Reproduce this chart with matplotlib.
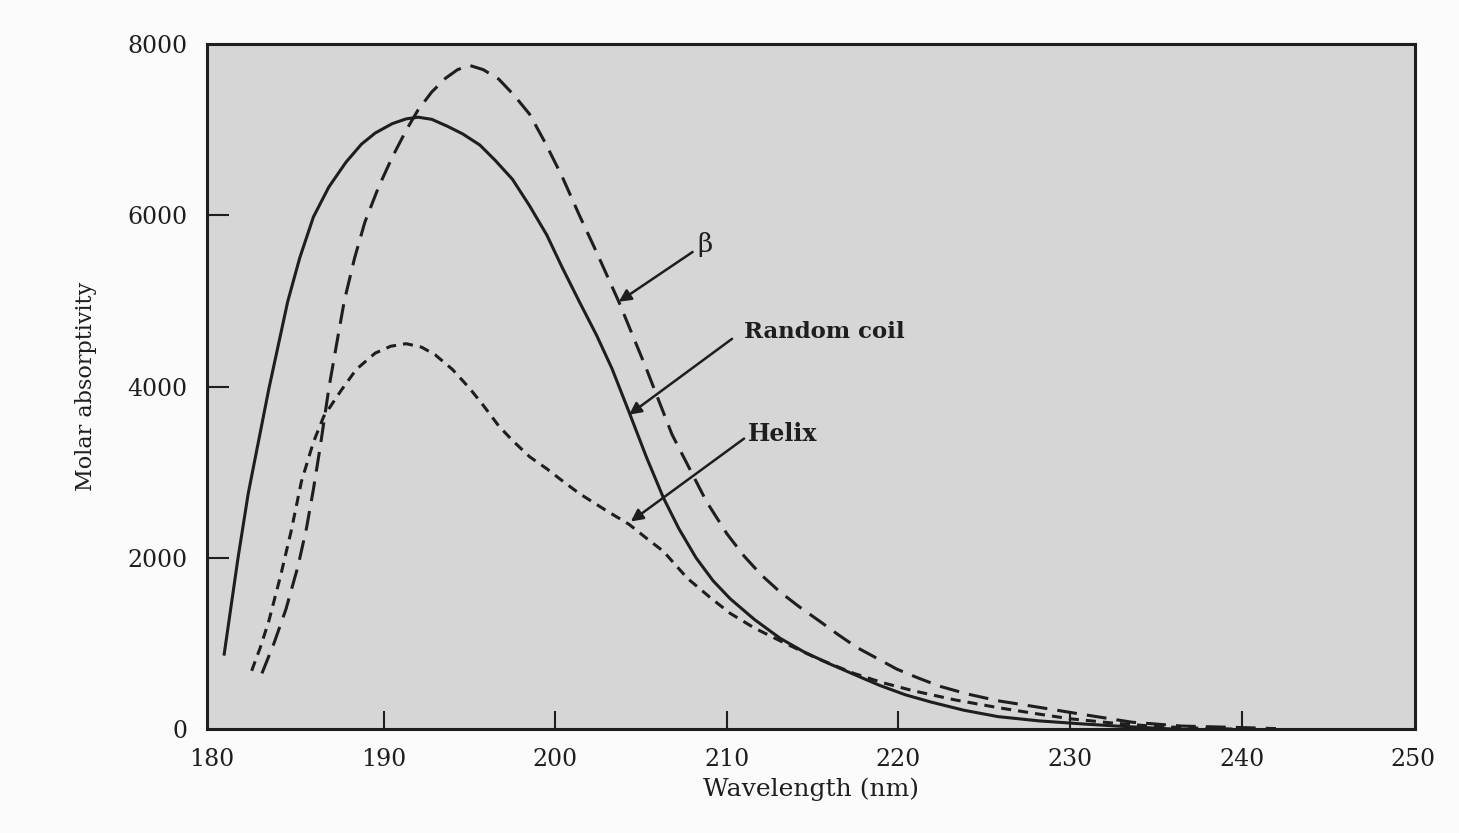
import matplotlib
matplotlib.use('Agg')
import matplotlib.pyplot as plt

# Random coil (solid line)
coil_nm = [180.7, 181.5, 182.1, 182.7, 183.3, 184.4, 185.1, 185.9, 186.8, 187.8,
           188.7, 189.5, 190.5, 191.3, 192.0, 192.8, 193.7, 194.6, 195.6, 196.5,
           197.5, 198.5, 199.5, 200.4, 201.4, 202.4, 203.3, 204.3, 205.3, 206.3,
           207.2, 208.2, 209.2, 210.2, 211.6, 213.1, 214.5, 216.0, 217.5, 218.9,
           220.4, 221.9, 223.8, 225.8, 228.2, 230.7, 232.7, 234.6, 236.0]
coil_val = [875, 1990, 2750, 3360, 3970, 4990, 5500, 5980, 6330, 6620,
            6830, 6960, 7070, 7125, 7145, 7120, 7040, 6950, 6820, 6640,
            6420, 6110, 5770, 5390, 4990, 4600, 4210, 3700, 3180, 2700,
            2340, 2000, 1730, 1520, 1280, 1060, 900, 760, 630, 510,
            400, 315, 220, 145, 95, 60, 35, 15, 0]

# Beta sheet (long dashes)
beta_nm = [182.9, 183.6, 184.3, 185.0, 185.5, 185.9, 186.3, 186.8, 187.3, 187.7,
           188.3, 188.9, 189.7, 190.5, 191.3, 192.0, 192.8, 193.6, 194.3, 195.0,
           195.8, 196.7, 197.6, 198.5, 199.4, 200.4, 201.4, 202.4, 203.7, 204.5,
           205.3, 206.0, 206.8, 207.8, 208.8, 210.0, 211.0, 212.0, 213.1, 214.2,
           215.4, 216.5, 217.6, 218.8, 219.9, 221.1, 222.4, 224.0, 225.8, 228.0,
           230.6, 233.6, 236.5, 240.4, 242.0]
beta_val = [650, 1000, 1400, 1900, 2350, 2800, 3300, 3980, 4550, 5000,
            5500, 5920, 6330, 6680, 6990, 7230, 7440, 7600, 7700, 7750,
            7700, 7590, 7400, 7180, 6850, 6450, 6000, 5570, 4990, 4600,
            4210, 3850, 3440, 3050, 2660, 2280, 2020, 1800, 1600, 1430,
            1260, 1100, 950, 820, 700, 600, 500, 410, 330, 260,
            175, 80, 35, 15, 5]

# Helix (short dashes)
helix_nm = [182.3, 182.8, 183.3, 184.0, 184.6, 185.2, 185.9, 186.5, 187.5, 188.4,
            189.5, 190.4, 191.3, 192.2, 193.0, 194.0, 195.0, 195.8, 196.7, 197.5,
            198.5, 199.5, 200.4, 201.4, 202.9, 204.3, 205.3, 206.3, 207.7, 209.0,
            210.2, 211.6, 213.1, 215.2, 217.4, 219.1, 220.9, 223.3, 225.8, 228.0,
            230.0, 232.5, 235.0, 237.5, 239.5]
helix_val = [680, 950, 1260, 1800, 2310, 2890, 3350, 3650, 3950, 4200,
             4390, 4470, 4500, 4460, 4370, 4200, 3980, 3780, 3540, 3370,
             3180, 3040, 2900, 2750, 2560, 2390, 2230, 2075, 1760, 1540,
             1350, 1180, 1030, 830, 650, 540, 445, 340, 250, 180,
             120, 70, 30, 10, 0]

x_ticks = [180, 190, 200, 210, 220, 230, 240, 250]
y_ticks = [0, 2000, 4000, 6000, 8000]

ink = '#1e1e1e'
plt.rcParams['font.family'] = ['DejaVu Serif']

fig = plt.figure(figsize=(14.59, 8.33), dpi=100, facecolor='#fbfbfb')
ax = fig.add_axes([0.1419, 0.1248, 0.8279, 0.8224])
ax.set_facecolor('#d6d6d6')

ax.plot(coil_nm, coil_val, color=ink, lw=2.2, solid_joinstyle='round')
ax.plot(beta_nm, beta_val, color=ink, lw=2.2, dashes=(6.5, 3.3))
ax.plot(helix_nm, helix_val, color=ink, lw=2.2, dashes=(3.3, 2.3))

ax.set_xlim(179.7, 250.1)
ax.set_ylim(0, 8000)
ax.set_xticks(x_ticks)
ax.set_yticks(y_ticks)
ax.tick_params(axis='x', direction='in', length=13, width=1.5, color=ink,
               labelsize=17, pad=14, labelcolor=ink)
ax.tick_params(axis='y', direction='in', length=16, width=1.5, color=ink,
               labelsize=17, pad=14, labelcolor=ink)
# no tick marks at the corners, only labels
for t in [ax.xaxis.get_major_ticks()[0], ax.xaxis.get_major_ticks()[-1],
          ax.yaxis.get_major_ticks()[0], ax.yaxis.get_major_ticks()[-1]]:
    t.tick1line.set_visible(False)

for s in ax.spines.values():
    s.set_linewidth(2.2)
    s.set_color(ink)

ax.set_xlabel('Wavelength (nm)', fontsize=18, color=ink, labelpad=4)
ax.set_ylabel('Molar absorptivity', fontsize=16, color=ink, labelpad=22)

arrow = dict(arrowstyle='-|>', color=ink, lw=1.8, mutation_scale=18,
             shrinkA=0, shrinkB=0)
ax.annotate('', xy=(203.7, 4990), xytext=(208.0, 5571), arrowprops=arrow)
ax.text(208.3, 5660, '\u03b2', fontsize=19, color=ink, va='center', ha='left')

ax.annotate('', xy=(204.3, 3671), xytext=(210.3, 4557), arrowprops=arrow)
ax.text(211.0, 4640, 'Random coil', fontsize=16.5, fontweight='bold', color=ink,
        va='center', ha='left')

ax.annotate('', xy=(204.4, 2424), xytext=(211.0, 3392), arrowprops=arrow)
ax.text(211.2, 3450, 'Helix', fontsize=17, fontweight='bold', color=ink,
        va='center', ha='left')

fig.savefig('out.png', dpi=100, facecolor=fig.get_facecolor())
